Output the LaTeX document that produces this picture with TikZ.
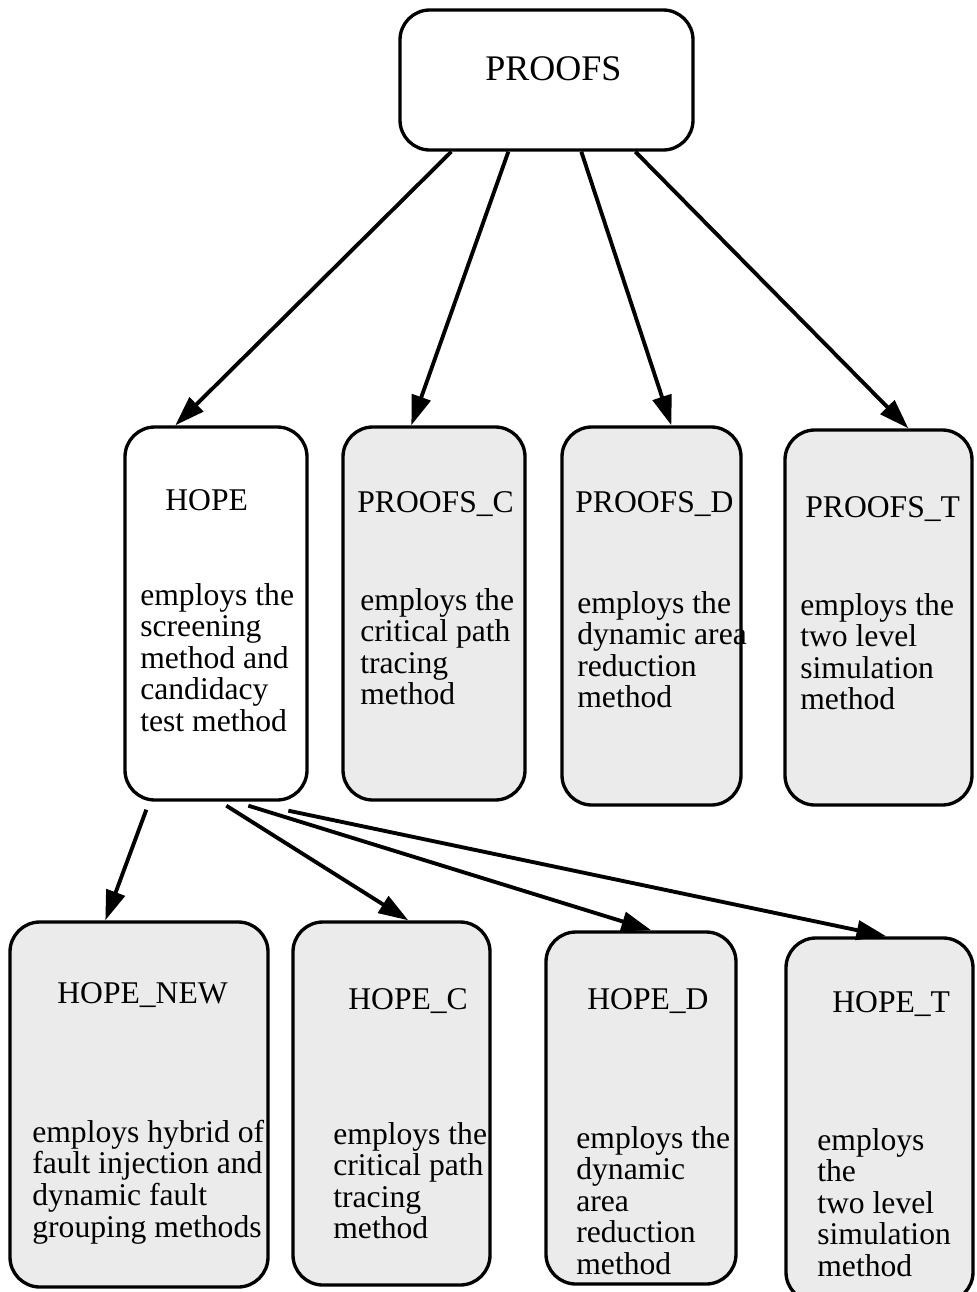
\documentclass[tikz,border=0pt]{standalone}
\usepackage{fontspec}
\setmainfont{Liberation Serif}
\usetikzlibrary{arrows.meta,calc,fit}

% left-aligned stack of lines whose reference point is the first baseline
\newcommand{\txtlines}[1]{\begin{tabular}[t]{@{}l@{}}#1\end{tabular}}
\renewcommand{\arraystretch}{1}

\tikzset{
  plainbox/.style={draw=black, line width=1.9pt, rounded corners=17pt, inner sep=0pt, fill=white},
  graybox/.style={plainbox, fill=black!8},
  title/.style={anchor=base west, inner sep=0pt, font=\fontsize{18}{18}\selectfont},
  toptitle/.style={anchor=base west, inner sep=0pt, font=\fontsize{20.5}{24}\selectfont},
  body/.style={anchor=base west, inner sep=0pt, font=\fontsize{18}{18}\selectfont},
  arr/.style={line width=2.2pt, -{Triangle[length=17pt,width=11pt]}},
}

\begin{document}
\begin{tikzpicture}[x=0.02cm, y=-0.02cm]
  \path[use as bounding box] (0,0) rectangle (977,1292);
  \clip (0,0) rectangle (977,1292);

  % boxes
  \node[plainbox, fit={(400,10) (693,150)}] (pr) {};
  \node[plainbox, fit={(125,427) (307,800)}] (hope) {};
  \node[graybox, fit={(343,427) (525,800)}] (pc) {};
  \node[graybox, fit={(562,427) (741,805)}] (pd) {};
  \node[graybox, fit={(785,430) (972,805)}] (pt) {};
  \node[graybox, fit={(10,922) (268,1287)}] (hn) {};
  \node[graybox, fit={(293,922) (490,1285)}] (hc) {};
  \node[graybox, fit={(546,932) (736,1284)}] (hd) {};
  \node[graybox, fit={(786,938) (973,1302)}] (ht) {};

  % titles
  \node[toptitle] (prT) at (485,80) {PROOFS};
  \node[title] (hopeT) at (165,510) {HOPE};
  \node[title] (pcT) at (357,512) {PROOFS\_C};
  \node[title] (pdT) at (575,512) {PROOFS\_D};
  \node[title] (ptT) at (805,517) {PROOFS\_T};
  \node[title] (hnT) at (57,1003) {HOPE\_NEW};
  \node[title] (hcT) at (348,1009) {HOPE\_C};
  \node[title] (hdT) at (587,1009) {HOPE\_D};
  \node[title] (htT) at (832,1012) {HOPE\_T};

  % descriptions
  \node[body] (hopeB) at (140,605) {\txtlines{employs the\\screening\\method and\\candidacy\\test method}};
  \node[body] (pcB) at (360,610) {\txtlines{employs the\\critical path\\tracing\\method}};
  \node[body] (pdB) at (577,613) {\txtlines{employs the\\dynamic area\\reduction\\method}};
  \node[body] (ptB) at (800,615) {\txtlines{employs the\\two level\\simulation\\method}};
  \node[body] (hnB) at (32,1142) {\txtlines{employs hybrid of\\fault injection and\\dynamic fault\\grouping methods}};
  \node[body] (hcB) at (333,1144) {\txtlines{employs the\\critical path\\tracing\\method}};
  \node[body] (hdB) at (576,1148) {\txtlines{employs the\\dynamic\\area\\reduction\\method}};
  \node[body] (htB) at (817,1150) {\txtlines{employs\\the\\two level\\simulation\\method}};

  % connectors from PROOFS
  \draw[arr] ($(pr.south west)+(53,0)$) -- ($(hope.north west)+(52,0)$);
  \draw[arr] ($(pr.south west)+(110,0)$) -- ($(pc.north west)+(70,0)$);
  \draw[arr] ($(pr.south west)+(183,0)$) -- ($(pd.north west)+(111,0)$);
  \draw[arr] ($(pr.south west)+(237,0)$) -- ($(pt.north west)+(125,0)$);

  % connectors from HOPE
  \draw[arr] ($(hope.south west)+(23,8)$) -- ($(hn.north west)+(97,0)$);
  \draw[arr] ($(hope.south west)+(103,4)$) -- ($(hc.north west)+(117,0)$);
  \draw[arr] ($(hope.south west)+(125,4)$) -- ($(hd.north west)+(107,0)$);
  \draw[arr] ($(hope.south west)+(165,9)$) -- ($(ht.north west)+(102,0)$);
\end{tikzpicture}
\end{document}
